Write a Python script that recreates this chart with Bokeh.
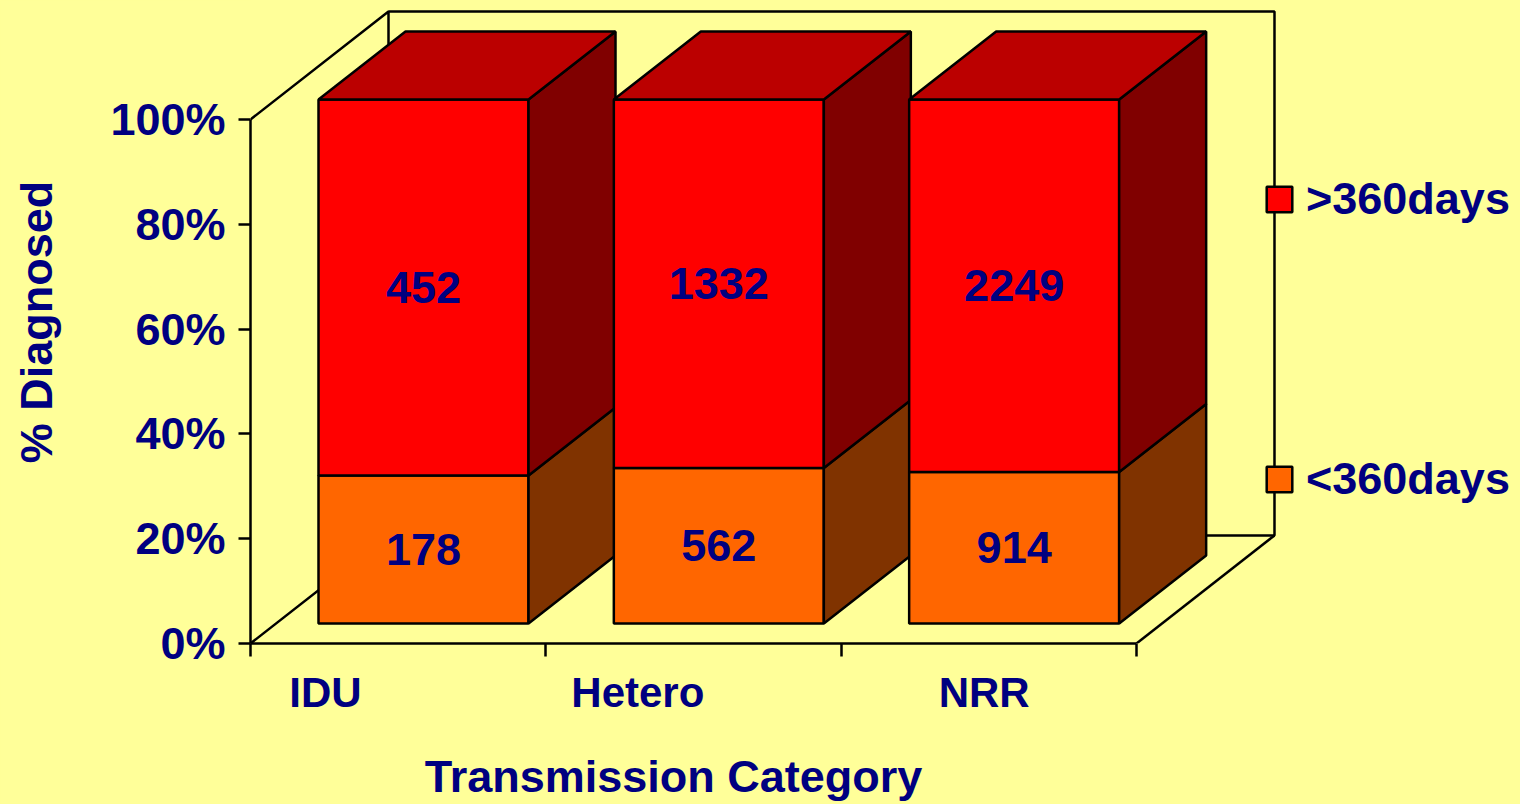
from bokeh.plotting import figure
from bokeh.embed import file_html
from bokeh.resources import INLINE
from bokeh.models import FixedTicker, LinearAxis, Legend, LegendItem, Range1d
from bokeh.core.properties import value

categories = ["IDU", "Hetero", "NRR"]
under_360 = [178, 562, 914]
over_360 = [452, 1332, 2249]
y_ticks = [0, 20, 40, 60, 80, 100]
y_tick_labels = ["0%", "20%", "40%", "60%", "80%", "100%"]
y_title = "% Diagnosed"
x_title = "Transmission Category"
series_names = ["<360days", ">360days"]

W, H = 1520, 804
BG = "#FFFF99"
NAVY = "#000080"
FONT = "Liberation Sans"
LW = 2.5
LEFT, BOTTOM = 250, 643          # pixel position of the origin
PX_X, PX_Y = 295.33, 5.24        # pixels per category slot / per percent
px = lambda n: n / PX_X
py = lambda n: n / PX_Y

# oblique projection depths
WALL_DX, WALL_DY = px(138), py(108)
BAR_DX, BAR_DY = px(87), py(68)
LIFT = py(20)
BAR_OFF, BAR_W = px(68), px(210)
N = len(categories)

p = figure(width=W, height=H, output_backend="svg", toolbar_location=None,
           x_range=Range1d(0, (W - LEFT) / PX_X), y_range=Range1d(0, BOTTOM / PX_Y),
           min_border_left=LEFT, min_border_bottom=H - BOTTOM,
           min_border_top=0, min_border_right=0,
           background_fill_color=BG, border_fill_color=BG, outline_line_color=None)
p.grid.visible = False

# axes
ya = p.yaxis[0]
ya.ticker = FixedTicker(ticks=y_ticks)
ya.major_label_overrides = dict(zip(y_ticks, y_tick_labels))
ya.bounds = (0, 100)
xa = p.xaxis[0]
label_pos = [px(75), 1 + px(92), 2 + px(143)]
xa.ticker = FixedTicker(ticks=label_pos, minor_ticks=[i * 1.0 for i in range(N + 1)])
xa.major_label_overrides = dict(zip(label_pos, categories))
xa.bounds = (0, N)
xa.major_tick_line_color = None
xa.minor_tick_line_color = "black"
xa.minor_tick_line_width = LW
xa.minor_tick_out = 13
xa.minor_tick_in = 0
ya.minor_tick_line_color = None
ya.major_tick_line_width = LW
ya.major_tick_out = 12
ya.major_tick_in = 0
for a in (xa, ya):
    a.axis_line_color = "black"
    a.axis_line_width = LW
    a.major_label_text_font = FONT
    a.major_label_text_font_style = "bold"
    a.major_label_text_color = NAVY
ya.major_label_text_font_size = "45px"
xa.major_label_text_font_size = "42px"
ya.major_label_standoff = 13
xa.major_label_standoff = 12

# y title: the label of a bare extra axis on the left
p.add_layout(LinearAxis(ticker=FixedTicker(ticks=[]), axis_line_color=None,
                        major_tick_line_color=None, minor_tick_line_color=None,
                        major_tick_out=0, major_tick_in=0, minor_tick_out=0,
                        axis_label=y_title, axis_label_standoff=46, axis_label_text_font=FONT,
                        axis_label_text_font_style="bold", axis_label_text_font_size="45px",
                        axis_label_text_color=NAVY), "left")

# x title: a single labelled tick on a bare extra axis below
title_pos = px(673 - LEFT)
p.add_layout(LinearAxis(ticker=FixedTicker(ticks=[title_pos]),
                        major_label_overrides={title_pos: x_title},
                        axis_line_color=None, major_tick_line_color=None, minor_tick_line_color=None,
                        major_tick_out=0, major_tick_in=0, minor_tick_out=0,
                        major_label_standoff=32, major_label_text_font=FONT,
                        major_label_text_font_style="bold", major_label_text_font_size="45px",
                        major_label_text_color=NAVY), "below")

# walls and floor
wall_kw = dict(line_color="black", line_width=LW)
p.line([0, WALL_DX, WALL_DX, N + WALL_DX, N + WALL_DX, WALL_DX, WALL_DX, 0],
       [100, 100 + WALL_DY, WALL_DY, WALL_DY, 100 + WALL_DY, 100 + WALL_DY, WALL_DY, 0], **wall_kw)
p.line([N, N + WALL_DX], [0, WALL_DY], **wall_kw)

# bars
fills = [("#FF6600", "#803300", "#803300"), ("#FF0000", "#800000", "#BB0000")]
front = [None, None]
for i in range(N):
    total = under_360[i] + over_360[i]
    split = 100.0 * under_360[i] / total
    x0 = i + BAR_OFF
    x1 = x0 + BAR_W
    spans = [(LIFT, LIFT + split), (LIFT + split, LIFT + 100)]
    for s, (y0, y1) in enumerate(spans):
        f, side, top = fills[s]
        r = p.quad(left=[x0], right=[x1], bottom=[y0], top=[y1], fill_color=f, line_color="black", line_width=LW)
        front[s] = r
        p.patch([x1, x1 + BAR_DX, x1 + BAR_DX, x1], [y0, y0 + BAR_DY, y1 + BAR_DY, y1],
                fill_color=side, line_color="black", line_width=LW)
    y1 = LIFT + 100
    p.patch([x0, x1, x1 + BAR_DX, x0 + BAR_DX], [y1, y1, y1 + BAR_DY, y1 + BAR_DY],
            fill_color=fills[1][2], line_color="black", line_width=LW)
    xc = (x0 + x1) / 2
    p.text([xc, xc], [LIFT + split / 2, LIFT + (split + 100) / 2],
           text=[str(under_360[i]), str(over_360[i])],
           text_font=value(FONT), text_font_style="bold", text_font_size="45px",
           text_color=NAVY, text_align="center", text_baseline="middle")

# legend
legend = Legend(items=[LegendItem(label=series_names[1], renderers=[front[1]]),
                       LegendItem(label=series_names[0], renderers=[front[0]])],
                location=(1013, 643 - 505), orientation="vertical",
                background_fill_alpha=0, border_line_color=None,
                glyph_width=32, glyph_height=32, label_standoff=11, spacing=228,
                label_text_font=FONT, label_text_font_style="bold",
                label_text_font_size="45px", label_text_color=NAVY,
                margin=0, padding=0)
p.add_layout(legend, "center")

html = file_html(p, INLINE)
html = html.replace("<head>", "<head><style>html,body{margin:0;padding:0;background:%s;overflow:hidden}</style>" % BG, 1)
open("out.html", "w").write(html)
